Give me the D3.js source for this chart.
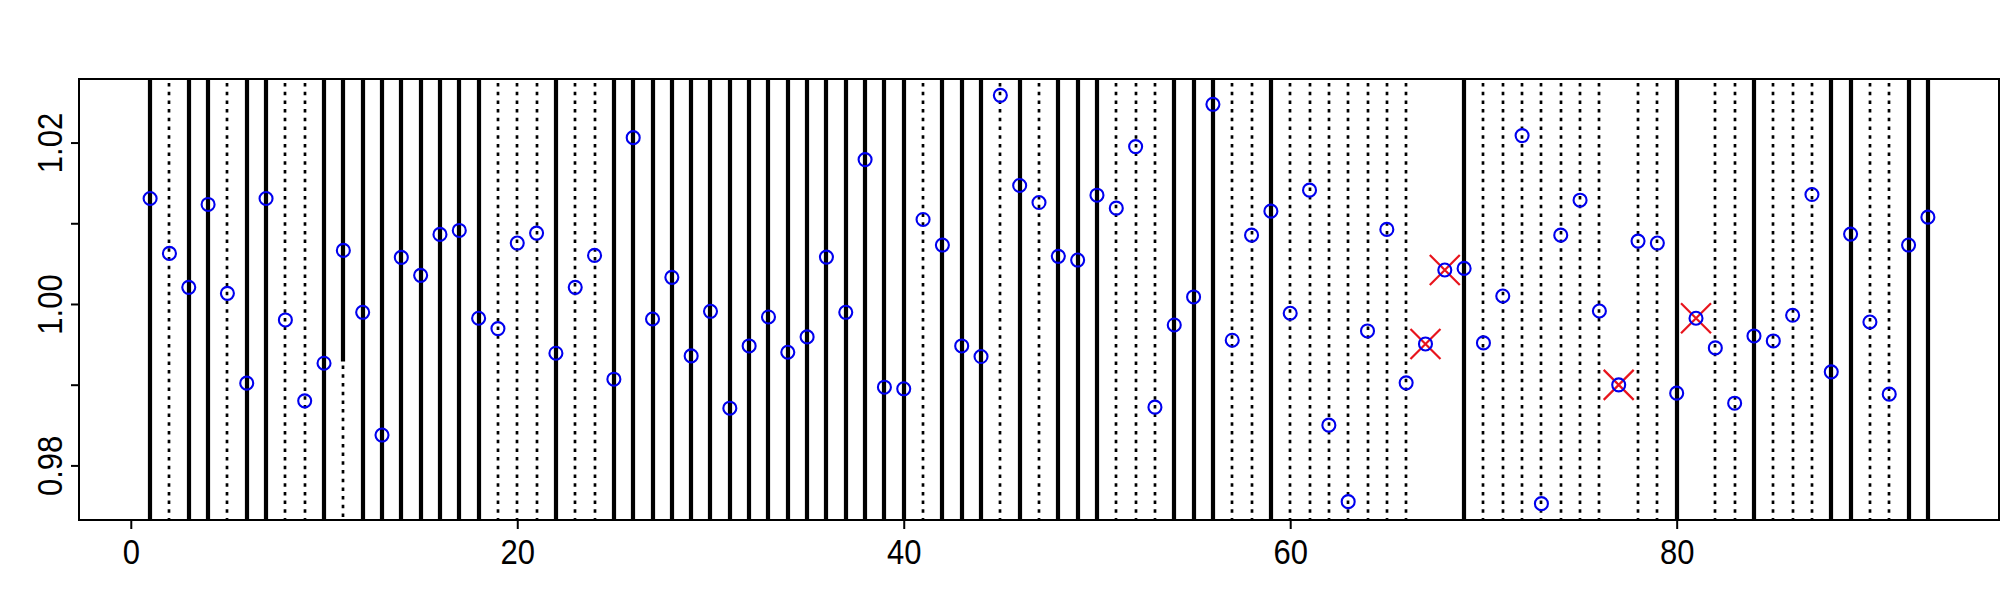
<!DOCTYPE html>
<html>
<head>
<meta charset="utf-8">
<script src="https://cdn.jsdelivr.net/npm/d3@7"></script>
<style>
  html, body { margin: 0; padding: 0; background: #fff; }
  svg { display: block; }
  text { font-family: "Liberation Sans", Arial, sans-serif; }
</style>
</head>
<body>
<div id="chart"></div>
<script>
// ---- data ----
const values = [
  1.01307, 1.00627, 1.00206, 1.01233, 1.00132, 0.99019, 1.01307, 0.99802, 0.98800, 0.99266,
  1.00664, 0.99897, 0.98376, 1.00577, 1.00355, 1.00862, 1.00911, 0.99823, 0.99695, 1.00755,
  1.00878, 0.99390, 1.00206, 1.00602, 0.99068, 1.02061, 0.99814, 1.00330, 0.99357, 0.99909,
  0.98709, 0.99480, 0.99839, 0.99402, 0.99592, 1.00581, 0.99897, 1.01789, 0.98969, 0.98949,
  1.01047, 1.00730, 0.99480, 0.99349, 1.02585, 1.01468, 1.01257, 1.00590, 1.00544, 1.01348,
  1.01187, 1.01950, 0.98722, 0.99740, 1.00087, 1.02474, 0.99551, 1.00853, 1.01150, 0.99885,
  1.01410, 0.98499, 0.97551, 0.99666, 1.00924, 0.99023, 0.99505, 1.00421, 1.00441, 0.99518,
  1.00099, 1.02086, 0.97526, 1.00853, 1.01286, 0.99913, 0.98998, 1.00779, 1.00755, 0.98895,
  0.99823, 0.99456, 0.98771, 0.99604, 0.99542, 0.99860, 1.01356, 0.99159, 1.00866, 0.99777,
  0.98883, 1.00730, 1.01076
];
// vertical line style per index: S = solid, D = dotted, N = none, P = partial (solid top, dotted below)
const lineStyles = [
  "S","D","S","S","D","S","S","D","D","S",
  "P","S","S","S","S","S","S","S","D","D",
  "D","S","D","D","S","S","S","S","S","S",
  "S","S","S","S","S","S","S","S","S","S",
  "D","S","S","S","D","S","D","S","S","S",
  "D","D","D","S","S","S","D","D","S","D",
  "D","D","D","D","D","D","N","N","S","D",
  "D","D","D","D","D","D","N","D","D","S",
  "N","D","D","S","D","D","D","S","S","D",
  "D","S","S"
];
const partialBreak = [0.99286];          // y-value where the partial line changes from solid to dotted
const flagged = [67, 68, 77, 81];        // points marked with a red cross
const xTicks = [0, 20, 40, 60, 80];
const yTicks = [0.98, 0.99, 1.00, 1.01, 1.02];
const yTickLabels = ["0.98", "", "1.00", "", "1.02"];

// ---- layout ----
const W = 2000, H = 600;
const plot = { left: 79, right: 1999, top: 79, bottom: 520 };

const pts = values.map((v, i) => ({ x: i + 1, y: v, style: lineStyles[i] }));

const xExt = d3.extent(pts, d => d.x);
const yExt = d3.extent(pts, d => d.y);
const xPad = (xExt[1] - xExt[0]) * 0.04;
const yPad = (yExt[1] - yExt[0]) * 0.04;

const x = d3.scaleLinear().domain([xExt[0] - xPad, xExt[1] + xPad]).range([plot.left, plot.right]);
const y = d3.scaleLinear().domain([yExt[0] - yPad, yExt[1] + yPad]).range([plot.bottom, plot.top]);

const svg = d3.select("#chart").append("svg").attr("width", W).attr("height", H);

svg.append("defs").append("clipPath").attr("id", "clip")
  .append("rect").attr("x", plot.left).attr("y", plot.top)
  .attr("width", plot.right - plot.left).attr("height", plot.bottom - plot.top);

const g = svg.append("g").attr("clip-path", "url(#clip)");

// vertical lines
const solidW = 4.2, dotW = 2.7, dotDash = "3.5,5.2";
pts.forEach((d, i) => {
  const px = Math.round(x(d.x));
  if (d.style === "S") {
    g.append("line").attr("x1", px).attr("x2", px).attr("y1", plot.top).attr("y2", plot.bottom)
      .attr("stroke", "#000").attr("stroke-width", solidW);
  } else if (d.style === "D") {
    g.append("line").attr("x1", px).attr("x2", px).attr("y1", plot.top + 4).attr("y2", plot.bottom)
      .attr("stroke", "#000").attr("stroke-width", dotW).attr("stroke-dasharray", dotDash);
  } else if (d.style === "P") {
    const yb = y(partialBreak[0]);
    g.append("line").attr("x1", px).attr("x2", px).attr("y1", plot.top).attr("y2", yb)
      .attr("stroke", "#000").attr("stroke-width", solidW);
    g.append("line").attr("x1", px).attr("x2", px).attr("y1", yb + 4).attr("y2", plot.bottom)
      .attr("stroke", "#000").attr("stroke-width", dotW).attr("stroke-dasharray", dotDash);
  }
});

// red crosses
const cs = 15;
pts.filter(d => flagged.includes(d.x)).forEach(d => {
  const cx = x(d.x), cy = y(d.y);
  g.append("path")
    .attr("d", `M${cx - cs},${cy - cs}L${cx + cs},${cy + cs}M${cx - cs},${cy + cs}L${cx + cs},${cy - cs}`)
    .attr("stroke", "#e8141c").attr("stroke-width", 2.2).attr("fill", "none");
});

// points
g.selectAll("circle.pt").data(pts).enter().append("circle")
  .attr("class", "pt")
  .attr("cx", d => x(d.x)).attr("cy", d => y(d.y)).attr("r", 6.5)
  .attr("fill", "none").attr("stroke", "#0000ee").attr("stroke-width", 2.1);

// box
svg.append("rect").attr("x", plot.left).attr("y", plot.top)
  .attr("width", plot.right - plot.left).attr("height", plot.bottom - plot.top)
  .attr("fill", "none").attr("stroke", "#000").attr("stroke-width", 2);

// axes
const fs = 31;
const xAxis = d3.axisBottom(x).tickValues(xTicks).tickSize(9).tickFormat(d3.format("d"));
const xg = svg.append("g").attr("transform", `translate(0,${plot.bottom})`).call(xAxis);
xg.select(".domain").remove();
xg.selectAll(".tick line").attr("stroke", "#000").attr("stroke-width", 2);
xg.selectAll(".tick text").attr("font-size", fs).attr("fill", "#000")
  .attr("font-family", "'Liberation Sans', Arial, sans-serif")
  .attr("y", null).attr("dy", null)
  .attr("transform", "translate(0,44) scale(1,1.12)");

const yAxis = d3.axisLeft(y).tickValues(yTicks).tickSize(8).tickFormat((d, i) => yTickLabels[i]);
const yg = svg.append("g").attr("transform", `translate(${plot.left},0)`).call(yAxis);
yg.select(".domain").remove();
yg.selectAll(".tick line").attr("stroke", "#000").attr("stroke-width", 2);
yg.selectAll(".tick text")
  .attr("font-size", fs).attr("fill", "#000")
  .attr("font-family", "'Liberation Sans', Arial, sans-serif")
  .attr("text-anchor", "middle")
  .attr("x", null).attr("dy", null)
  .attr("transform", "translate(-17,0) rotate(-90) scale(1,1.12)");
</script>
</body>
</html>
